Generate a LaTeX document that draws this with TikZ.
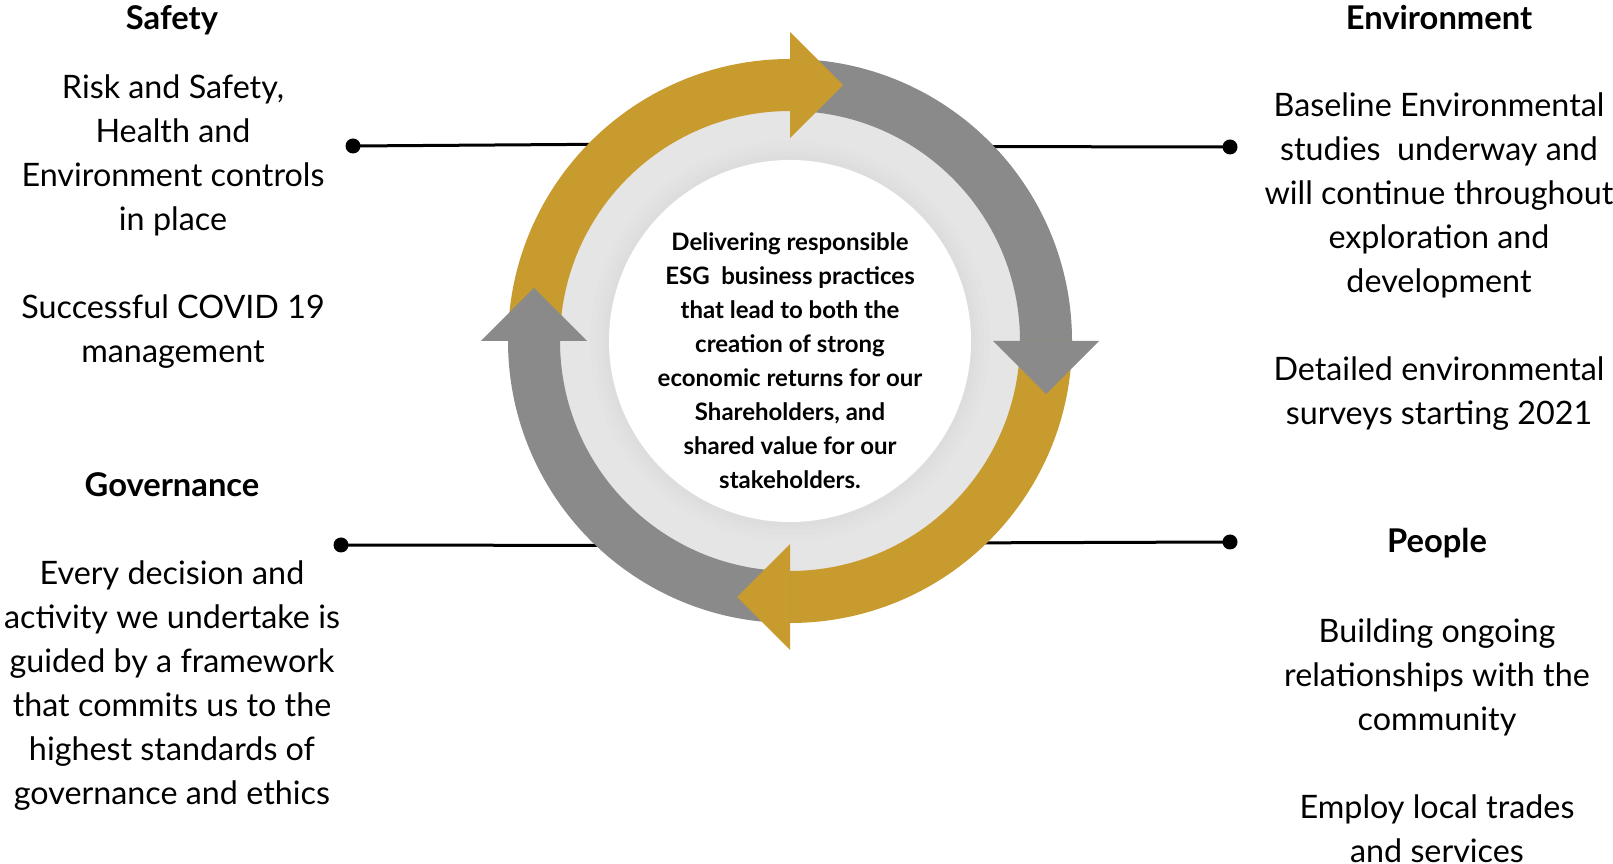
\documentclass[tikz,border=0pt]{standalone}
\usepackage{fontspec}
\setmainfont{Lato}
\usetikzlibrary{calc}
\definecolor{esggold}{HTML}{C89B2E}
\definecolor{esggray}{HTML}{8A8A8A}
\definecolor{esgpale}{HTML}{E5E5E5}

\begin{document}
\begin{tikzpicture}[
        x=1pt, y=1pt,
        heading/.style = {anchor=base, inner sep=0pt, font=\fontsize{32.7}{38}\selectfont\bfseries}, % Заголовки разделов
        body/.style = {align=center, inner sep=0pt, font=\fontsize{32.3}{44}\selectfont}, % Текст разделов
        core/.style = {align=center, inner sep=0pt, font=\fontsize{24}{34}\selectfont\bfseries}, % Текст в центре
        dot/.style = {circle, fill=black, inner sep=0pt, minimum size=15pt},
        link/.style = {draw=black, line width=3pt},
        goldpart/.style = {fill=esggold},
        graypart/.style = {fill=esggray},
    ]
    \useasboundingbox (0,0) rectangle (1613,864);
    \coordinate (c) at (790,523); % Центр круга

    % Точки и линии
    \node[dot] (safetydot) at (353,718) {};
    \node[dot] (envdot) at (1230,717) {};
    \node[dot] (govdot) at (341,319) {};
    \node[dot] (peopledot) at (1230,322) {};
    \coordinate (safetyend) at (640,720);
    \coordinate (envend) at (940,717.5);
    \coordinate (govend) at (640,318.5);
    \coordinate (peopleend) at (940,321);
    \draw[link] (safetydot.center) -- (safetyend);
    \draw[link] (envdot.center) -- (envend);
    \draw[link] (govdot.center) -- (govend);
    \draw[link] (peopledot.center) -- (peopleend);

    % Светлое кольцо и мягкая тень вокруг белого круга
    \fill[esgpale] (c) circle[radius=232];
    \fill[black!11] (c) circle[radius=200];
    \fill[black!11.8] (c) circle[radius=194];
    \fill[black!12.6] (c) circle[radius=189];
    \fill[black!13.4] (c) circle[radius=185];
    \fill[white] (c) circle[radius=181];

    % Дуги стрелок
    \fill[goldpart] ($(c)+(180:282)$) arc[start angle=180, end angle=90, radius=282] -- ($(c)+(90:230)$) arc[start angle=90, end angle=180, radius=230] -- cycle;
    \fill[graypart] ($(c)+(90:282)$) arc[start angle=90, end angle=0, radius=282] -- ($(c)+(0:230)$) arc[start angle=0, end angle=90, radius=230] -- cycle;
    \fill[goldpart] ($(c)+(0:282)$) arc[start angle=0, end angle=-90, radius=282] -- ($(c)+(-90:230)$) arc[start angle=-90, end angle=0, radius=230] -- cycle;
    \fill[graypart] ($(c)+(-90:282)$) arc[start angle=-90, end angle=-180, radius=282] -- ($(c)+(-180:230)$) arc[start angle=-180, end angle=-90, radius=230] -- cycle;

    % Наконечники
    \fill[goldpart] ($(c)+(90:203)$) -- ($(c)+(90:309)$) -- ($(c)+(90:256)+(0:53)$) -- cycle;
    \fill[graypart] ($(c)+(0:203)$) -- ($(c)+(0:309)$) -- ($(c)+(0:256)+(-90:53)$) -- cycle;
    \fill[goldpart] ($(c)+(-90:203)$) -- ($(c)+(-90:309)$) -- ($(c)+(-90:256)+(180:53)$) -- cycle;
    \fill[graypart] ($(c)+(180:203)$) -- ($(c)+(180:309)$) -- ($(c)+(180:256)+(90:53)$) -- cycle;

    % Текст в центре
    \node[core] (mission) at (790,503.5) {Delivering responsible\\ESG\ \ business practices\\that lead to both the\\creation of strong\\economic returns for our\\Shareholders, and\\shared value for our\\stakeholders.};

    % Разделы
    \node[heading] (safety) at (172,834.5) {Safety};
    \node[body] (safetytext) at (173,642.4) {Risk and Safety,\\Health and\\Environment controls\\in place\\[44pt]Successful COVID 19\\management};
    \node[heading] (governance) at (172,367.5) {Governance};
    \node[body] (govtext) at (172,178.4) {Every decision and\\activity we undertake is\\guided by a framework\\that commits us to the\\highest standards of\\governance and ethics};
    \node[heading] (environment) at (1439,834.5) {Environment};
    \node[body] (envtext) at (1439,602.8) {Baseline Environmental\\studies\ \ underway and\\will continue throughout\\exploration and\\development\\[44pt]Detailed environmental\\surveys starting 2021};
    \node[heading] (people) at (1437,311) {People};
    \node[body] (peopletext) at (1437,122.9) {Building ongoing\\relationships with the\\community\\[44pt]Employ local trades\\and services};
\end{tikzpicture}
\end{document}
